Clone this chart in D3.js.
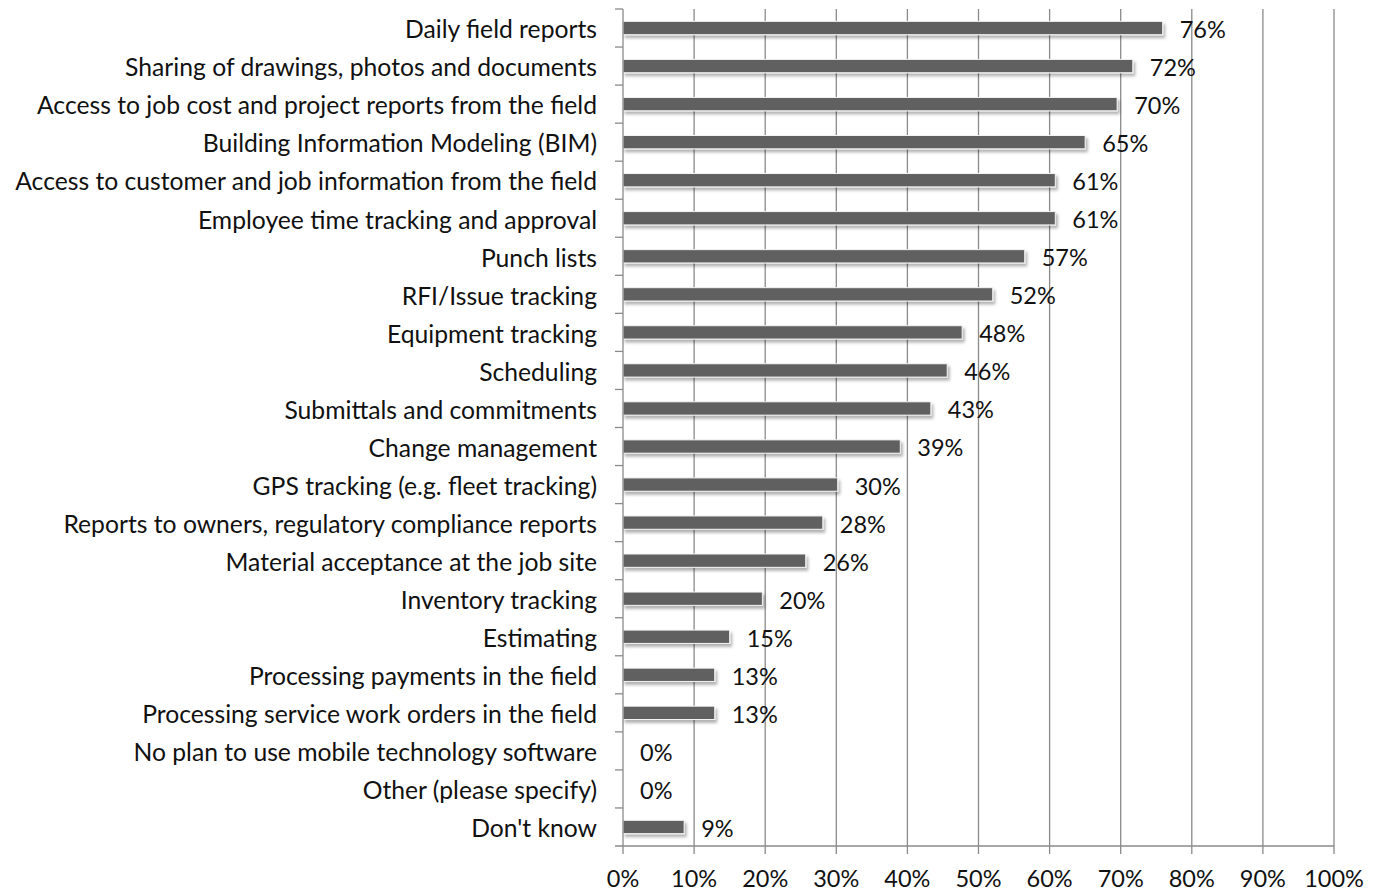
<!DOCTYPE html>
<html>
<head>
<meta charset="utf-8">
<script src="https://cdn.jsdelivr.net/npm/d3@7"></script>
<style>
  body { margin: 0; background: #fff; }
  svg { display: block; }
  text { font-family: Lato, "Open Sans", sans-serif; fill: #111; }
</style>
</head>
<body>
<div id="chart"></div>
<script>
// categories, top to bottom
let categories = [
    "Daily field reports",
    "Sharing of drawings, photos and documents",
    "Access to job cost and project reports from the field",
    "Building Information Modeling (BIM)",
    "Access to customer and job information from the field",
    "Employee time tracking and approval",
    "Punch lists",
    "RFI/Issue tracking",
    "Equipment tracking",
    "Scheduling",
    "Submittals and commitments",
    "Change management",
    "GPS tracking (e.g. fleet tracking)",
    "Reports to owners, regulatory compliance reports",
    "Material acceptance at the job site",
    "Inventory tracking",
    "Estimating",
    "Processing payments in the field",
    "Processing service work orders in the field",
    "No plan to use mobile technology software",
    "Other (please specify)",
    "Don't know"
];

// share of respondents, in %
let values = [75.9, 71.7, 69.5, 65.0, 60.8, 60.8, 56.5, 52.0, 47.7, 45.6, 43.3, 39.0,
    30.2, 28.1, 25.7, 19.6, 15.0, 12.9, 12.9, 0, 0, 8.6];

let x_ticks = [0, 10, 20, 30, 40, 50, 60, 70, 80, 90, 100];

let width = 1383, height = 893;
let plot_left = 623, plot_right = 1334, plot_top = 9, plot_bottom = 846;
let grid_color = '#8a8a8a';

let svg = d3.select('#chart').append('svg')
    .attr('width', width)
    .attr('height', height);

let defs = svg.append('defs');
let shadow = defs.append('filter').attr('id', 'bar_shadow')
    .attr('x', '-5%').attr('y', '-40%').attr('width', '115%').attr('height', '200%');
shadow.append('feDropShadow')
    .attr('dx', 2).attr('dy', 3)
    .attr('stdDeviation', 1.8)
    .attr('flood-color', '#000')
    .attr('flood-opacity', 0.3);

let x = d3.scaleLinear().domain([0, 100]).range([plot_left, plot_right]);
let y = d3.scaleBand().domain(categories).range([plot_top, plot_bottom]).paddingInner(0.65).paddingOuter(0.325);
let y_edges = d3.scaleLinear().domain([0, categories.length]).range([plot_top, plot_bottom]);

// vertical grid lines
svg.append('g').selectAll('line')
    .data(x_ticks.slice(1))
    .join('line')
    .attr('x1', d => x(d)).attr('x2', d => x(d))
    .attr('y1', plot_top).attr('y2', plot_bottom)
    .attr('stroke', grid_color)
    .attr('stroke-width', 1.3);

// bars
svg.append('g').selectAll('rect')
    .data(categories)
    .join('rect')
    .attr('x', x(0))
    .attr('y', d => y(d))
    .attr('width', (d, i) => x(values[i]) - x(0))
    .attr('height', y.bandwidth())
    .attr('fill', '#606060')
    .attr('stroke', '#f4f4f4')
    .attr('stroke-width', 1)
    .style('display', (d, i) => values[i] > 0 ? null : 'none')
    .attr('filter', 'url(#bar_shadow)');

// value labels
svg.append('g').selectAll('text')
    .data(categories)
    .join('text')
    .attr('x', (d, i) => x(values[i]) + 17)
    .attr('y', d => y(d) + y.bandwidth() / 2 + 4)
    .attr('dominant-baseline', 'middle')
    .style('font-size', '23.5px')
    .text((d, i) => Math.round(values[i]) + '%');

// y axis line + category ticks
let y_axis = svg.append('g');
y_axis.append('line')
    .attr('x1', plot_left).attr('x2', plot_left)
    .attr('y1', plot_top).attr('y2', plot_bottom)
    .attr('stroke', grid_color).attr('stroke-width', 1.3);
y_axis.selectAll('.cat_tick')
    .data(d3.range(categories.length))
    .join('line')
    .attr('class', 'cat_tick')
    .attr('x1', plot_left - 8).attr('x2', plot_left)
    .attr('y1', d => y_edges(d)).attr('y2', d => y_edges(d))
    .attr('stroke', grid_color).attr('stroke-width', 1.3);
y_axis.selectAll('text')
    .data(categories)
    .join('text')
    .attr('x', plot_left - 26)
    .attr('y', d => y(d) + y.bandwidth() / 2 + 4)
    .attr('text-anchor', 'end')
    .attr('dominant-baseline', 'middle')
    .style('font-size', '24.7px')
    .text(d => d);

// x axis
let x_axis = svg.append('g');
x_axis.append('line')
    .attr('x1', plot_left - 8).attr('x2', plot_right)
    .attr('y1', plot_bottom).attr('y2', plot_bottom)
    .attr('stroke', grid_color).attr('stroke-width', 1.3);
x_axis.selectAll('.x_tick')
    .data(x_ticks)
    .join('line')
    .attr('class', 'x_tick')
    .attr('x1', d => x(d)).attr('x2', d => x(d))
    .attr('y1', plot_bottom).attr('y2', plot_bottom + 8)
    .attr('stroke', grid_color).attr('stroke-width', 1.3);
x_axis.selectAll('text')
    .data(x_ticks)
    .join('text')
    .attr('x', d => x(d))
    .attr('y', 887)
    .attr('text-anchor', 'middle')
    .style('font-size', '23.5px')
    .text(d => d + '%');
</script>
</body>
</html>
